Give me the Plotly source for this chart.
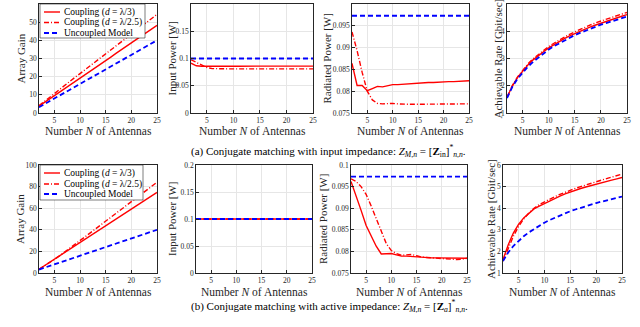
import plotly.graph_objects as go

# number of antennas
N = [2, 3, 4, 5, 6, 7, 8, 9, 10, 11, 12, 13, 14, 15, 16, 17, 18, 19, 20, 21, 22, 23, 24, 25]

# (a) conjugate matching with input impedance
gain_a_l3 = [3.8, 5.7, 7.7, 9.6, 11.5, 13.5, 15.4, 17.3, 19.3, 21.2, 23.1, 25.0, 27.0, 28.9, 30.8, 32.8, 34.7, 36.6, 38.5, 40.5, 42.4, 44.3, 46.2, 48.2]
gain_a_l25 = [4.0, 6.3, 8.6, 10.8, 13.0, 15.2, 17.4, 19.6, 21.7, 23.9, 26.1, 28.3, 30.4, 32.6, 34.8, 37.0, 39.1, 41.3, 43.5, 45.7, 47.8, 50.0, 52.2, 54.3]
gain_unc = [3.2, 4.8, 6.4, 8.0, 9.6, 11.2, 12.8, 14.4, 16.0, 17.6, 19.2, 20.8, 22.4, 24.0, 25.6, 27.2, 28.8, 30.4, 32.0, 33.6, 35.2, 36.8, 38.4, 40.0]

pin_a_l3 = [0.0915, 0.0866, 0.0859, 0.0857, 0.0857, 0.0858, 0.0858, 0.0858, 0.0859, 0.0859, 0.0859, 0.0859, 0.0859, 0.0859, 0.0860, 0.0860, 0.0860, 0.0860, 0.0860, 0.0860, 0.0860, 0.0860, 0.0860, 0.0860]
pin_a_l25 = [0.0976, 0.0930, 0.0875, 0.0835, 0.0815, 0.0810, 0.0809, 0.0810, 0.0810, 0.0810, 0.0810, 0.0810, 0.0810, 0.0810, 0.0810, 0.0810, 0.0810, 0.0810, 0.0810, 0.0810, 0.0810, 0.0810, 0.0810, 0.0810]
pin_unc = [0.1] * 24

prad_a_l3 = [0.0864, 0.0813, 0.0813, 0.0801, 0.0806, 0.0811, 0.0810, 0.0812, 0.0815, 0.0815, 0.0816, 0.0817, 0.0818, 0.0818, 0.0819, 0.0820, 0.0820, 0.0821, 0.0822, 0.0822, 0.0822, 0.0823, 0.0823, 0.0824]
prad_a_l25 = [0.0936, 0.0893, 0.0843, 0.0800, 0.0780, 0.0772, 0.0771, 0.0772, 0.0772, 0.0771, 0.0770, 0.0770, 0.0770, 0.0770, 0.0770, 0.0770, 0.0770, 0.0770, 0.0770, 0.0770, 0.0771, 0.0771, 0.0771, 0.0771]
prad_unc = [0.0973] * 24

rate_a_l3 = [1.57, 1.98, 2.30, 2.55, 2.76, 2.95, 3.11, 3.25, 3.39, 3.51, 3.62, 3.73, 3.83, 3.92, 4.00, 4.08, 4.16, 4.23, 4.30, 4.37, 4.43, 4.49, 4.55, 4.61]
rate_a_l25 = [1.58, 2.00, 2.32, 2.58, 2.80, 2.99, 3.15, 3.30, 3.44, 3.56, 3.68, 3.79, 3.89, 3.98, 4.07, 4.15, 4.23, 4.31, 4.38, 4.45, 4.51, 4.57, 4.63, 4.69]
rate_unc = [1.55, 1.95, 2.25, 2.49, 2.70, 2.88, 3.04, 3.18, 3.33, 3.45, 3.56, 3.66, 3.76, 3.86, 3.94, 4.02, 4.10, 4.17, 4.24, 4.30, 4.36, 4.42, 4.48, 4.54]

# (b) conjugate matching with active impedance
gain_b_l3 = [3.5, 6.6, 9.7, 12.8, 15.9, 19.0, 22.1, 25.2, 28.3, 31.4, 34.5, 37.6, 40.7, 43.8, 46.9, 50.0, 53.0, 56.1, 59.2, 62.3, 65.4, 68.5, 71.6, 74.7]
gain_b_l25 = [3.4, 6.3, 9.4, 12.6, 15.9, 19.3, 22.8, 26.4, 30.0, 33.6, 37.2, 40.8, 44.4, 48.0, 51.6, 55.2, 58.8, 62.4, 66.0, 69.6, 73.2, 76.8, 80.4, 84.0]

pin_b_l3 = [0.1] * 24
pin_b_l25 = [0.1] * 24

prad_b_l3 = [0.0962, 0.0930, 0.0895, 0.0860, 0.0835, 0.0812, 0.0794, 0.0794, 0.0795, 0.0792, 0.0789, 0.0789, 0.0788, 0.0787, 0.0786, 0.0786, 0.0785, 0.0785, 0.0785, 0.0784, 0.0784, 0.0784, 0.0784, 0.0784]
prad_b_l25 = [0.0968, 0.0962, 0.0950, 0.0932, 0.0905, 0.0875, 0.0845, 0.0818, 0.0802, 0.0795, 0.0791, 0.0792, 0.0793, 0.0790, 0.0787, 0.0786, 0.0785, 0.0784, 0.0784, 0.0783, 0.0782, 0.0781, 0.0782, 0.0784]

rate_b_l3 = [1.62, 2.30, 2.85, 3.25, 3.55, 3.78, 3.97, 4.10, 4.22, 4.35, 4.46, 4.56, 4.66, 4.75, 4.83, 4.91, 4.98, 5.05, 5.12, 5.18, 5.24, 5.30, 5.36, 5.42]
rate_b_l25 = [1.55, 2.15, 2.70, 3.15, 3.50, 3.78, 4.00, 4.17, 4.30, 4.42, 4.53, 4.64, 4.74, 4.83, 4.92, 5.00, 5.08, 5.16, 5.23, 5.30, 5.37, 5.44, 5.51, 5.58]

names = ["Coupling (<i>d</i> = λ/3)", "Coupling (<i>d</i> = λ/2.5)", "Uncoupled Model"]

W, H = 640, 327
FONT = "Liberation Serif"
INK = "#262626"

# panel boxes in pixels: left, right, top, bottom
panels = [
    (39, 157, 4, 113), (191, 313, 4, 113), (352, 469, 4, 113), (507, 627, 4, 113),
    (39, 157, 165, 273), (196, 312, 165, 273), (351, 467, 165, 273), (503, 622, 165, 273),
]
# y-title centre x (px) per panel, x-title centre y (px) per row
ytitle_x = [20, 171, 326, 497, 20, 172, 323, 491]
xtitle_y = [131, 292]

ytitles = ["Array Gain", "Input Power [W]", "Radiated Power [W]", "Achievable Rate [Gbit/sec]"] * 2
yranges = [[0, 60], [0, 0.2], [0.075, 0.1], [1, 5], [0, 100], [0, 0.2], [0.075, 0.1], [1, 6]]
yticks = [
    [0, 10, 20, 30, 40, 50, 60],
    [0, 0.05, 0.1, 0.15, 0.2],
    [0.075, 0.08, 0.085, 0.09, 0.095, 0.1],
    [1, 2, 3, 4, 5],
    [0, 20, 40, 60, 80, 100],
    [0, 0.05, 0.1, 0.15, 0.2],
    [0.075, 0.08, 0.085, 0.09, 0.095, 0.1],
    [1, 2, 3, 4, 5, 6],
]
yticktext = [
    ["0", "10", "20", "30", "40", "50", "60"],
    ["0", "0.05", "0.1", "0.15", "0.2"],
    ["0.075", "0.08", "0.085", "0.09", "0.095", "0.1"],
    ["1", "2", "3", "4", "5"],
    ["0", "20", "40", "60", "80", "100"],
    ["0", "0.05", "0.1", "0.15", "0.2"],
    ["0.075", "0.08", "0.085", "0.09", "0.095", "0.1"],
    ["1", "2", "3", "4", "5", "6"],
]

data = [
    (gain_a_l3, gain_a_l25, gain_unc),
    (pin_a_l3, pin_a_l25, pin_unc),
    (prad_a_l3, prad_a_l25, prad_unc),
    (rate_a_l3, rate_a_l25, rate_unc),
    (gain_b_l3, gain_b_l25, gain_unc),
    (pin_b_l3, pin_b_l25, pin_unc),
    (prad_b_l3, prad_b_l25, prad_unc),
    (rate_b_l3, rate_b_l25, rate_unc),
]

styles = [
    dict(color="#ff0000", width=1.4, dash="solid"),
    dict(color="#ff0000", width=1.4, dash="5px,2px,1px,2px"),
    dict(color="#0000ff", width=1.8, dash="5px,3px"),
]

fig = go.Figure()

for i, series in enumerate(data):
    k = "" if i == 0 else str(i + 1)
    for j, ys in enumerate(series):
        fig.add_trace(go.Scatter(
            x=N, y=ys, mode="lines", name=names[j], line=styles[j],
            xaxis="x" + k, yaxis="y" + k, showlegend=False,
        ))

layout = dict(
    width=W, height=H,
    margin=dict(l=0, r=0, t=0, b=0),
    paper_bgcolor="white", plot_bgcolor="white",
    font=dict(family=FONT, color=INK, size=7),
    showlegend=False,
)

ann = []
for i, (l, r, t, b) in enumerate(panels):
    k = "" if i == 0 else str(i + 1)
    axis_common = dict(
        showline=True, linecolor=INK, linewidth=0.6, mirror=True,
        ticks="inside", ticklen=3, tickcolor=INK, tickwidth=0.6,
        showgrid=True, gridcolor="#e6e6e6", gridwidth=0.6, zeroline=False,
        automargin=False, tickfont=dict(size=7.5, color=INK),
    )
    layout["xaxis" + k] = dict(
        axis_common, domain=[l / W, r / W], anchor="y" + k, range=[2, 25],
        tickvals=[5, 10, 15, 20, 25],
    )
    layout["yaxis" + k] = dict(
        axis_common, domain=[1 - b / H, 1 - t / H], anchor="x" + k, range=yranges[i],
        tickvals=yticks[i], ticktext=yticktext[i],
    )
    # axis titles
    ann.append(dict(
        text="Number <i>N</i> of Antennas", x=(l + r) / 2 / W, y=1 - xtitle_y[i // 4] / H,
        xref="paper", yref="paper", showarrow=False, xanchor="center", yanchor="middle",
        font=dict(size=11.5, color=INK, family=FONT),
    ))
    ann.append(dict(
        text=ytitles[i], x=ytitle_x[i] / W, y=1 - (t + b) / 2 / H, textangle=-90,
        xref="paper", yref="paper", showarrow=False, xanchor="center", yanchor="middle",
        font=dict(size=11, color=INK, family=FONT),
    ))

fig.update_layout(**layout)

# hand-made legends (box, line samples, labels) for the two gain panels
shapes = []
legend_boxes = [(40, 145, 4, 38, [12, 22.5, 33]), (40, 143, 165, 200, [173, 184, 194])]
for (bl, br, bt, bb, rows) in legend_boxes:
    shapes.append(dict(type="rect", xref="paper", yref="paper",
                       x0=bl / W, x1=br / W, y0=1 - bb / H, y1=1 - bt / H,
                       line=dict(color=INK, width=0.6), fillcolor="white", layer="above"))
    for j, yy in enumerate(rows):
        shapes.append(dict(type="line", xref="paper", yref="paper",
                           x0=(bl + 4) / W, x1=(bl + 20) / W, y0=1 - yy / H, y1=1 - yy / H,
                           line=dict(color=styles[j]["color"], width=styles[j]["width"],
                                     dash=styles[j]["dash"]), layer="above"))
        ann.append(dict(text=names[j], x=(bl + 22) / W, y=1 - yy / H,
                        xref="paper", yref="paper", showarrow=False,
                        xanchor="left", yanchor="middle",
                        font=dict(size=9.5, color="black", family=FONT)))

ann.append(dict(
    text="(a) Conjugate matching with input impedance: <i>Z</i><sub><i>M</i>,<i>n</i></sub> = [<b>Z</b><sub>in</sub>]<sup>*</sup><sub><i>n</i>,<i>n</i></sub>.",
    x=328 / W, y=1 - 151 / H, xref="paper", yref="paper", showarrow=False,
    font=dict(size=11, color="black", family=FONT),
))
ann.append(dict(
    text="(b) Conjugate matching with active impedance: <i>Z</i><sub><i>M</i>,<i>n</i></sub> = [<b>Z</b><sub><i>a</i></sub>]<sup>*</sup><sub><i>n</i>,<i>n</i></sub>.",
    x=329 / W, y=1 - 316 / H, xref="paper", yref="paper", showarrow=False,
    font=dict(size=11, color="black", family=FONT),
))

fig.update_layout(shapes=shapes, annotations=ann)

# the page body has a default margin; drop it so the figure fills the window
fig.write_html("out.html", config={"displayModeBar": False},
               post_script="document.body.style.margin = '0px';")
